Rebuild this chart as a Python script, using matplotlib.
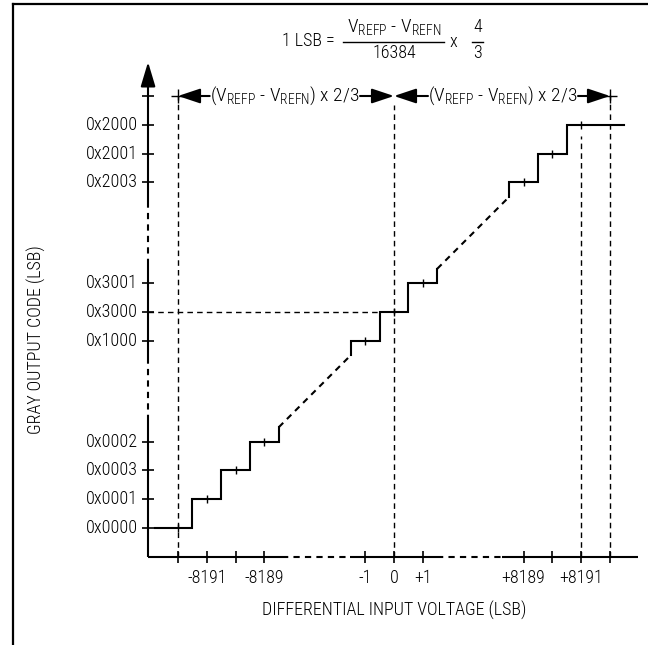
import matplotlib
matplotlib.use("Agg")
import matplotlib.pyplot as plt
from matplotlib import font_manager
from matplotlib.lines import Line2D

# code centres along the input axis (schematic LSB units, axis breaks between groups)
x_ticks = [-7.5, -6.5, -5.5, -4.5, -1, 0, 1, 4.5, 5.5, 6.5, 7.5]
x_labels = ["", "-8191", "", "-8189", "-1", "0", "+1", "+8189", "", "+8191", ""]
y_ticks = [-7.5, -6.5, -5.5, -4.5, -1, 0, 1, 4.5, 5.5, 6.5, 7.5]
y_labels = ["0x0000", "0x0001", "0x0003", "0x0002", "0x1000", "0x3000", "0x3001",
            "0x2003", "0x2001", "0x2000", ""]

# transfer function: step edges and output levels for the three visible groups
low_edges = [-8.3, -7, -6, -5, -4]
low_levels = [-7.5, -6.5, -5.5, -4.5]
mid_edges = [-1.5, -0.5, 0.5, 1.5]
mid_levels = [-1, 0, 1]
high_edges = [4, 5, 6, 8]
high_levels = [4.5, 5.5, 6.5]
step_marks_x = [-7.5, -6.5, -5.5, -4.5, -1, 0, 1, 4.5, 5.5, 6.5]

names = {f.name for f in font_manager.fontManager.ttflist}
FONT = next((n for n in ["Roboto Condensed", "Archivo Narrow", "PT Sans Narrow"] if n in names),
            "DejaVu Sans")
plt.rcParams["font.family"] = [FONT, "DejaVu Sans"]
plt.rcParams["font.weight"] = "light"
plt.rcParams["mathtext.fontset"] = "custom"
plt.rcParams["mathtext.rm"] = FONT + ":weight=light"
plt.rcParams["mathtext.it"] = FONT + ":weight=light"
FS = 13
K = "black"


def stair(edges, levels, y0, y1):
    xs, ys = [edges[0]], [y0]
    for i, lv in enumerate(levels):
        xs += [edges[i], edges[i + 1]]
        ys += [lv, lv]
    xs.append(edges[-1])
    ys.append(y1)
    return xs, ys


fig = plt.figure(figsize=(6.48, 6.45), dpi=100)
ax = fig.add_axes([0, 0, 1, 1])
PX = 28.8
ax.set_xlim(-394 / PX, (648 - 394) / PX)
ax.set_ylim((312 - 645) / PX, 312 / PX)
ax.axis("off")

# frame (top and left only)
fig.add_artist(Line2D([12.5 / 648, 1], [1 - 3.5 / 645] * 2, color=K, lw=1.6))
fig.add_artist(Line2D([12.5 / 648] * 2, [0, 1 - 3.5 / 645], color=K, lw=1.6))

X0, Y0 = -8.54, -8.5
brk = (0, (3, 2.5))

# y axis with breaks
for a, b in [(Y0, -3.8), (-1.6, 1.63), (3.78, 7.95)]:
    ax.plot([X0, X0], [a, b], color=K, lw=1.5, solid_capstyle="butt")
for a, b in [(-3.8, -1.6), (1.63, 3.78)]:
    ax.plot([X0, X0], [a, b], color=K, lw=1.5, ls=brk)
ax.annotate("", xy=(X0, 8.68), xytext=(X0, 7.9),
            arrowprops=dict(arrowstyle="-|>,head_length=1.5,head_width=0.45",
                            color=K, lw=1.5, shrinkA=0, shrinkB=0, mutation_scale=10))

# x axis with breaks
for a, b in [(X0, -3.9), (-1.53, 1.49), (3.75, 8.47)]:
    ax.plot([a, b], [Y0, Y0], color=K, lw=1.5, solid_capstyle="butt")
for a, b in [(-3.9, -1.53), (1.49, 3.75)]:
    ax.plot([a, b], [Y0, Y0], color=K, lw=1.5, ls=brk)

# axis ticks and labels
ax.plot([X0] * len(y_ticks), y_ticks, ls="none", marker="_", ms=8, mew=1.2, color=K)
ax.plot(x_ticks, [Y0] * len(x_ticks), ls="none", marker="|", ms=8.5, mew=1.2, color=K)
for yv, lab in zip(y_ticks, y_labels):
    ax.text(-8.89, yv, lab, ha="right", va="center", fontsize=FS)
for xv, lab in zip(x_ticks, x_labels):
    ax.text(xv, -9.25, lab, ha="center", va="center", fontsize=FS)

ax.text(0, -10.38, "DIFFERENTIAL INPUT VOLTAGE (LSB)", ha="center", va="center", fontsize=FS)
ax.text(-12.4, -0.97, "GRAY OUTPUT CODE (LSB)", ha="center", va="center",
        rotation=90, fontsize=FS)

# guide lines
guide = dict(color=K, lw=1.0, ls=(0, (4, 3)))
ax.plot([x_ticks[0]] * 2, [Y0, 7.5], **guide)
ax.plot([0, 0], [Y0, 7.2], **guide)
ax.plot([x_ticks[-2]] * 2, [Y0, 6.1], **guide)
ax.plot([x_ticks[-1]] * 2, [Y0, 7.5], **guide)
ax.plot([X0, mid_edges[1]], [0, 0], **guide)

# staircase
sl = dict(color=K, lw=1.5, solid_joinstyle="miter")
xs, ys = stair(low_edges, low_levels, low_levels[0], -4)
ax.plot(xs, ys, **sl)
xs, ys = stair(mid_edges, mid_levels, -1.5, 1.5)
ax.plot(xs, ys, **sl)
xs, ys = stair(high_edges, high_levels, 4, high_levels[-1])
ax.plot(xs, ys, **sl)
ax.plot([-4, -1.5], [-4, -1.5], color=K, lw=1.5, ls=brk)
ax.plot([1.5, 4], [1.5, 4], color=K, lw=1.5, ls=brk)
step_marks_y = low_levels + mid_levels + high_levels
ax.plot(step_marks_x, step_marks_y, ls="none", marker="|", ms=6, mew=1.0, color=K)

# full-scale dimension arrows
DY = 7.5
span = r"(V$_\mathregular{REFP}$ - V$_\mathregular{REFN}$) x 2/3"
ax.text(-3.8, DY, span, ha="center", va="center", fontsize=14)
ax.text(3.77, DY, span, ha="center", va="center", fontsize=14)
arr = dict(arrowstyle="-|>,head_length=1.35,head_width=0.45", color=K, lw=1.5,
           shrinkA=0, shrinkB=0, mutation_scale=10)
for tip, tail in [(-7.5, -6.4), (0, -1.18), (0, 1.18), (7.5, 6.39)]:
    ax.annotate("", xy=(tip, DY), xytext=(tail, DY), arrowprops=arr)
ax.plot([-7.5, 7.5], [DY, DY], ls="none", marker="+", ms=10, mew=1.0, color=K)

# LSB definition
ax.text(-2.97, 9.42, "1 LSB =", ha="center", va="center", fontsize=FS)
ax.text(0, 9.9, r"V$_\mathregular{REFP}$ - V$_\mathregular{REFN}$", ha="center",
        va="center", fontsize=14)
ax.plot([-1.77, 1.74], [9.39, 9.39], color=K, lw=1.0)
ax.text(0, 8.98, "16384", ha="center", va="center", fontsize=FS)
ax.text(2.05, 9.38, "x", ha="center", va="center", fontsize=FS)
ax.text(2.9, 9.9, "4", ha="center", va="center", fontsize=FS)
ax.plot([2.71, 3.09], [9.39, 9.39], color=K, lw=1.0)
ax.text(2.9, 8.98, "3", ha="center", va="center", fontsize=FS)

fig.savefig("out.png", dpi=100)
